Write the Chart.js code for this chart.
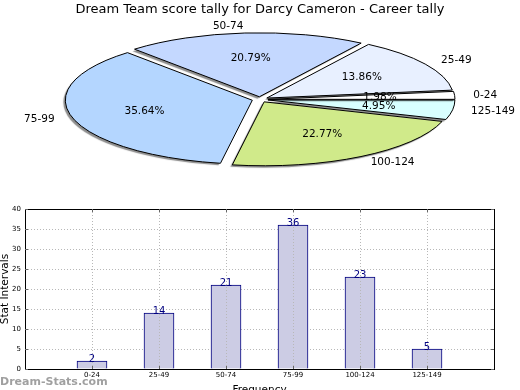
<!DOCTYPE html>
<html>
<head>
<meta charset="utf-8">
<script src="https://cdn.jsdelivr.net/npm/chart.js@4/dist/chart.umd.min.js"></script>
<style>
  html, body { margin: 0; padding: 0; background: #fff; }
  #wrap { position: relative; width: 520px; height: 390px; overflow: hidden; }
  canvas { position: absolute; left: 0; }
  #pie { top: 0; }
  #bar { top: 200px; }
</style>
</head>
<body>
<div id="wrap">
  <canvas id="pie" width="520" height="200"></canvas>
  <canvas id="bar" width="520" height="190"></canvas>
</div>
<script>
// ---- data ----
const chartTitle = 'Dream Team score tally for Darcy Cameron - Career tally';
const categories = ['0-24', '25-49', '50-74', '75-99', '100-124', '125-149'];
const counts = [2, 14, 21, 36, 23, 5];
const pieColors = ['#ffffff', '#e8f0ff', '#c4d8ff', '#b4d6ff', '#d0ea8a', '#d8ffff'];
const yTicks = [0, 5, 10, 15, 20, 25, 30, 35, 40];
const yLabel = 'Stat Intervals';
const xLabel = 'Frequency';
const watermark = 'Dream-Stats.com';

const FONT = 'DejaVu Sans';
const SY = 0.342;       // vertical squash of the pie (ellipse)
const EXPLODE = 8;      // explode distance
const RADIUS = 187;

// pie drawn counter-clockwise from 3 o'clock -> reverse order, clockwise in Chart.js
const pieLabels = categories.slice().reverse();
const pieData = counts.slice().reverse();
const pieBg = pieColors.slice().reverse();
const total = counts.reduce((a, b) => a + b, 0);

// explode + shadow + uniform-width outline for arcs
const ArcEl = Chart.elements.ArcElement;
const origArcDraw = ArcEl.prototype.draw;
ArcEl.prototype.draw = function (ctx) {
  const h = (this.startAngle + this.endAngle) / 2;
  ctx.save();
  ctx.translate(Math.cos(h) * EXPLODE, Math.sin(h) * EXPLODE);
  ctx.shadowColor = 'rgba(0,0,0,0.45)';
  ctx.shadowOffsetX = -2;
  ctx.shadowOffsetY = 2;
  ctx.shadowBlur = 1;
  origArcDraw.call(this, ctx);
  ctx.shadowColor = 'rgba(0,0,0,0)';
  ctx.beginPath();
  ctx.moveTo(this.x, this.y);
  ctx.arc(this.x, this.y, this.outerRadius, this.startAngle, this.endAngle);
  ctx.closePath();
  ctx.setTransform(1, 0, 0, 1, 0, 0);
  ctx.lineWidth = 1;
  ctx.strokeStyle = '#000';
  ctx.stroke();
  ctx.restore();
};

const squash = {
  id: 'squash',
  beforeDatasetsDraw(chart) {
    const ctx = chart.ctx;
    const a = chart.getDatasetMeta(0).data[0];
    ctx.save();
    ctx.translate(a.x, a.y);
    ctx.scale(1, SY);
    ctx.translate(-a.x, -a.y);
  },
  afterDatasetsDraw(chart) {
    const ctx = chart.ctx;
    ctx.restore();
    const meta = chart.getDatasetMeta(0);
    ctx.save();
    ctx.fillStyle = '#000';
    ctx.font = '10.5px "' + FONT + '"';
    ctx.textBaseline = 'middle';
    meta.data.forEach((arc, i) => {
      const h = (arc.startAngle + arc.endAngle) / 2;
      const c = Math.cos(h), s = Math.sin(h);
      const pct = (pieData[i] / total * 100).toFixed(2) + '%';
      const dp = EXPLODE + 0.6 * arc.outerRadius;
      ctx.textAlign = 'center';
      ctx.fillText(pct, arc.x + c * dp, arc.y + s * dp * SY);
      const dl = EXPLODE + 1.1 * arc.outerRadius;
      ctx.textAlign = c > 0 ? 'left' : 'right';
      ctx.fillText(pieLabels[i], arc.x + c * dl, arc.y + s * dl * SY);
    });
    ctx.restore();
  }
};

new Chart(document.getElementById('pie'), {
  type: 'pie',
  data: {
    labels: pieLabels,
    datasets: [{ data: pieData, backgroundColor: pieBg, borderWidth: 0, clip: false }]
  },
  options: {
    responsive: false,
    animation: false,
    rotation: 90,
    radius: RADIUS,
    layout: { padding: { top: 0, bottom: 18.6 } },
    plugins: {
      legend: { display: false },
      tooltip: { enabled: false },
      title: {
        display: true, text: chartTitle, color: '#000',
        font: { family: FONT, size: 13, weight: 'normal' },
        padding: { top: 2, bottom: 0 }
      }
    }
  },
  plugins: [squash]
});

// ---- bar chart ----
const barPoints = categories.map((c, i) => ({ x: i + 1, y: counts[i] }));

const barExtras = {
  id: 'barExtras',
  afterDatasetsDraw(chart) {
    const ctx = chart.ctx;
    const meta = chart.getDatasetMeta(0);
    ctx.save();
    ctx.fillStyle = '#000080';
    ctx.font = '10px "' + FONT + '"';
    ctx.textAlign = 'center';
    ctx.textBaseline = 'alphabetic';
    meta.data.forEach((bar, i) => {
      ctx.fillText(String(counts[i]), bar.x, bar.y + 1);
    });
    ctx.restore();
  },
  afterDraw(chart) {
    const ctx = chart.ctx;
    const a = chart.chartArea;
    const xs = chart.scales.x, ys = chart.scales.y;
    ctx.save();
    ctx.strokeStyle = '#000';
    ctx.lineWidth = 1;
    ctx.strokeRect(Math.round(a.left) + 0.5, Math.round(a.top) + 0.5,
                   Math.round(a.right - a.left), Math.round(a.bottom - a.top));
    ctx.strokeStyle = '#666';
    ctx.beginPath();
    yTicks.forEach(v => {
      const y = Math.round(ys.getPixelForValue(v)) + 0.5;
      ctx.moveTo(a.left, y); ctx.lineTo(a.left + 3, y);
      ctx.moveTo(a.right, y); ctx.lineTo(a.right - 3, y);
    });
    categories.forEach((c, i) => {
      const x = Math.round(xs.getPixelForValue(i + 1)) + 0.5;
      ctx.moveTo(x, a.bottom); ctx.lineTo(x, a.bottom - 3);
      ctx.moveTo(x, a.top); ctx.lineTo(x, a.top + 3);
    });
    ctx.stroke();
    // watermark
    ctx.fillStyle = 'rgba(128,128,128,0.75)';
    ctx.font = 'bold 11px "' + FONT + '"';
    ctx.textAlign = 'left';
    ctx.textBaseline = 'alphabetic';
    ctx.fillText(watermark, 0, 185);
    ctx.restore();
  }
};

new Chart(document.getElementById('bar'), {
  type: 'bar',
  data: {
    datasets: [{
      data: barPoints,
      backgroundColor: '#ccccE4',
      borderColor: '#000080',
      borderWidth: 1,
      barThickness: 30
    }]
  },
  options: {
    responsive: false,
    animation: false,
    layout: { padding: { left: 0, right: 26, top: 9, bottom: 0 } },
    plugins: { legend: { display: false }, tooltip: { enabled: false } },
    scales: {
      x: {
        type: 'linear', min: 0, max: categories.length + 1, offset: false,
        afterBuildTicks: s => { s.ticks = categories.map((c, i) => ({ value: i + 1 })); },
        afterFit: s => { s.height = 21; },
        ticks: {
          autoSkip: false, maxRotation: 0, padding: 2, color: '#000',
          font: { family: FONT, size: 7 },
          callback: v => categories[v - 1]
        },
        grid: { color: '#b8b8b8', drawTicks: false, offset: false, z: 1 },
        border: { display: false, dash: [1, 2] },
        title: {
          display: true, text: xLabel, color: '#000',
          font: { family: FONT, size: 10.5 },
          padding: { top: 0, bottom: -6.3 }
        }
      },
      y: {
        min: 0, max: 40,
        afterBuildTicks: s => { s.ticks = yTicks.map(v => ({ value: v })); },
        afterFit: s => { s.width = 25; },
        ticks: { padding: 4, color: '#000', font: { family: FONT, size: 7 } },
        grid: { color: '#b8b8b8', drawTicks: false },
        border: { display: false, dash: [1, 2] },
        title: {
          display: true, text: yLabel, color: '#000',
          font: { family: FONT, size: 10.5 },
          padding: { top: -1, bottom: 0 }
        }
      }
    }
  },
  plugins: [barExtras]
});
</script>
</body>
</html>
